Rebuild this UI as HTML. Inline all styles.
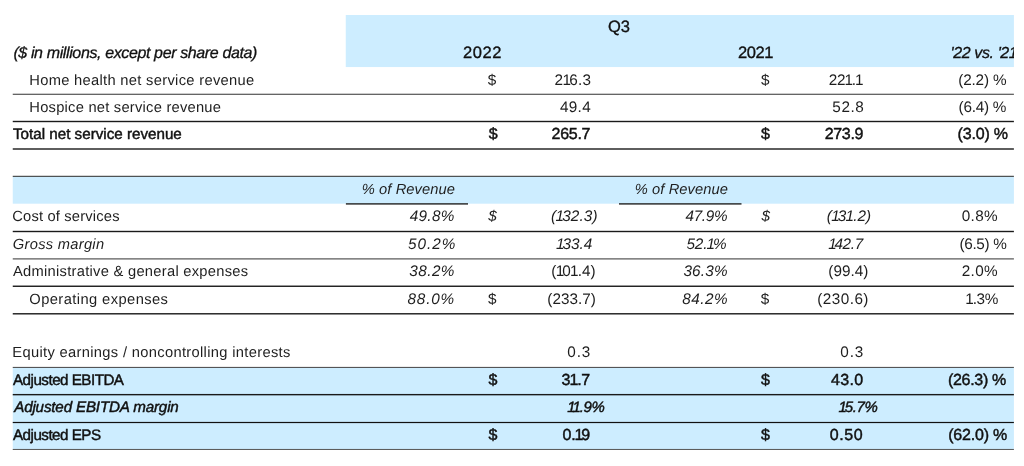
<!DOCTYPE html>
<html lang="en"><head><meta charset="utf-8"><title>Q3 results</title>
<style>
html,body{margin:0;padding:0;background:#fff}
body{width:1024px;height:466px;position:relative;overflow:hidden;font-family:"Liberation Sans",sans-serif;color:#1a1a1a}
.band{position:absolute;background:#ccecfc}
.ln{position:absolute}
.row{position:absolute;left:0;width:1024px;height:20px;will-change:transform;text-rendering:geometricPrecision}
.t{position:absolute;top:0;white-space:nowrap;line-height:20px;height:20px;font-size:15px}
.o{margin:0 -2.0px 0 -0.7px}
.p{margin-right:-0.9px}
.r{font-weight:400;color:#1e1e1e}
.i{font-weight:400;font-style:italic;color:#1e1e1e}
.b{font-weight:400;color:#111;-webkit-text-stroke:0.45px #111}
.bi{font-weight:400;font-style:italic;color:#111;-webkit-text-stroke:0.45px #111}
.hbi{font-weight:400;font-style:italic;color:#111;-webkit-text-stroke:0.3px #111}
.h{font-weight:400;color:#111;-webkit-text-stroke:0.35px #111}
</style></head><body>
<svg width="1024" height="466" viewBox="0 0 1024 466" style="position:absolute;left:0;top:0">
<rect x="345.75" y="15.0" width="668.15" height="52.05" fill="#cdedff"/>
<rect x="12.75" y="176.5" width="1001.15" height="27.19999999999999" fill="#cdedff"/>
<rect x="12.75" y="367.5" width="1001.15" height="82.0" fill="#cdedff"/>
<rect x="12.75" y="93.75" width="1001.15" height="1.0" fill="#333"/>
<rect x="12.75" y="120.80" width="1001.15" height="1.4" fill="#1a1a1a"/>
<rect x="12.75" y="148.30" width="1001.15" height="1.4" fill="#1a1a1a"/>
<rect x="12.75" y="175.80" width="1001.15" height="1.0" fill="#2a2a2a"/>
<rect x="345.9" y="203.20" width="122.10000000000002" height="1.4" fill="#222"/>
<rect x="619" y="203.20" width="122.5" height="1.4" fill="#222"/>
<rect x="12.75" y="230.80" width="1001.15" height="1.4" fill="#1a1a1a"/>
<rect x="12.75" y="258.35" width="1001.15" height="1.1" fill="#444"/>
<rect x="12.75" y="285.55" width="1001.15" height="1.4" fill="#1a1a1a"/>
<rect x="12.75" y="313.10" width="1001.15" height="1.4" fill="#1a1a1a"/>
<rect x="12.75" y="366.90" width="1001.15" height="1.0" fill="#444"/>
<rect x="12.75" y="393.95" width="1001.15" height="1.4" fill="#1a1a1a"/>
<rect x="12.75" y="421.90" width="1001.15" height="1.2" fill="#111"/>
<rect x="12.75" y="448.95" width="1001.15" height="1.0" fill="#555"/>
</svg>
<div class="row" style="top:18px">
<div class="t h" style="left:608.00px;top:-1px;font-size:16.5px">Q3</div>
</div>
<div class="row" style="top:44px">
<div class="t hbi" style="left:13.39px;font-size:16px;letter-spacing:-0.376px">($ in millions, except per share data)</div>
<div class="t h" style="left:462.91px;top:-1px;font-size:16.5px;letter-spacing:0.600px">2022</div>
<div class="t h" style="left:738.00px;top:-1px;font-size:16.5px;letter-spacing:-0.450px">2021</div>
<div class="t hbi" style="left:950.50px;font-size:16px;letter-spacing:-0.380px;width:63.40px;overflow:hidden">'22 vs. '21</div>
</div>
<div class="row" style="top:71px">
<div class="t r" style="left:29.30px;font-size:14.7px;letter-spacing:0.310px">Home health net service revenue</div>
<div class="t r" style="left:487.75px;font-size:15.3px">$</div>
<div class="t r" style="left:554.50px;font-size:15.3px;letter-spacing:0.226px">2<span class="o">1</span>6.3</div>
<div class="t r" style="left:761.00px;font-size:15.3px">$</div>
<div class="t r" style="left:828.70px;font-size:15.3px;letter-spacing:-0.300px">22<span class="o p">1</span>.<span class="o">1</span></div>
<div class="t r" style="left:958.22px;font-size:15.3px;letter-spacing:-0.150px">(2.2) %</div>
</div>
<div class="row" style="top:98px">
<div class="t r" style="left:29.30px;font-size:14.7px;letter-spacing:0.242px">Hospice net service revenue</div>
<div class="t r" style="left:560.00px;font-size:15.3px;letter-spacing:0.300px">49.4</div>
<div class="t r" style="left:832.30px;font-size:15.3px;letter-spacing:0.600px">52.8</div>
<div class="t r" style="left:958.58px;font-size:15.3px;letter-spacing:-0.236px">(6.4) %</div>
</div>
<div class="row" style="top:125px">
<div class="t b" style="left:13.00px;font-size:15.2px;letter-spacing:-0.001px">Total net service revenue</div>
<div class="t b" style="left:488.75px;font-size:16.0px">$</div>
<div class="t b" style="left:551.60px;font-size:16.0px;letter-spacing:-0.300px">265.7</div>
<div class="t b" style="left:761.00px;font-size:16.0px">$</div>
<div class="t b" style="left:824.65px;font-size:16.0px;letter-spacing:-0.300px">273.9</div>
<div class="t b" style="left:957.60px;font-size:16.0px;letter-spacing:-0.188px">(3.0) %</div>
</div>
<div class="row" style="top:180px">
<div class="t i" style="left:361.80px;font-size:14.7px;letter-spacing:0.082px">% of Revenue</div>
<div class="t i" style="left:634.80px;font-size:14.7px;letter-spacing:0.082px">% of Revenue</div>
</div>
<div class="row" style="top:207px">
<div class="t r" style="left:12.30px;font-size:14.7px;letter-spacing:0.180px">Cost of services</div>
<div class="t i" style="left:409.64px;font-size:15.3px;letter-spacing:0.355px">49.8%</div>
<div class="t i" style="left:488.25px;font-size:15.3px">$</div>
<div class="t i" style="left:550.91px;font-size:15.3px;letter-spacing:0.150px">(<span class="o">1</span>32.3)</div>
<div class="t i" style="left:685.45px;font-size:15.3px;letter-spacing:-0.300px">47.9%</div>
<div class="t i" style="left:761.50px;font-size:15.3px">$</div>
<div class="t i" style="left:826.85px;font-size:15.3px">(<span class="o">1</span>3<span class="o p">1</span>.2)</div>
<div class="t r" style="left:961.80px;font-size:15.3px;letter-spacing:0.300px">0.8%</div>
</div>
<div class="row" style="top:235px">
<div class="t i" style="left:12.80px;font-size:14.7px;letter-spacing:0.286px">Gross margin</div>
<div class="t i" style="left:407.93px;font-size:15.3px;letter-spacing:0.995px">50.2%</div>
<div class="t i" style="left:556.58px;font-size:15.3px;letter-spacing:-0.002px"><span class="o">1</span>33.4</div>
<div class="t i" style="left:686.40px;font-size:15.3px;letter-spacing:-0.130px">52.<span class="o">1</span>%</div>
<div class="t i" style="left:828.89px;font-size:15.3px;letter-spacing:-0.300px"><span class="o">1</span>42.7</div>
<div class="t r" style="left:959.40px;font-size:15.3px;letter-spacing:-0.290px">(6.5) %</div>
</div>
<div class="row" style="top:262px">
<div class="t r" style="left:13.00px;font-size:14.7px;letter-spacing:0.281px">Administrative &amp; general expenses</div>
<div class="t i" style="left:409.30px;font-size:15.3px;letter-spacing:0.450px">38.2%</div>
<div class="t r" style="left:551.30px;font-size:15.3px">(<span class="o">1</span>0<span class="o p">1</span>.4)</div>
<div class="t i" style="left:683.39px;font-size:15.3px;letter-spacing:0.225px">36.3%</div>
<div class="t r" style="left:828.33px;font-size:15.3px">(99.4)</div>
<div class="t r" style="left:961.80px;font-size:15.3px;letter-spacing:0.300px">2.0%</div>
</div>
<div class="row" style="top:290px">
<div class="t r" style="left:29.30px;font-size:14.7px;letter-spacing:0.422px">Operating expenses</div>
<div class="t i" style="left:407.55px;font-size:15.3px;letter-spacing:0.805px">88.0%</div>
<div class="t r" style="left:488.00px;font-size:15.3px">$</div>
<div class="t r" style="left:547.30px;font-size:15.3px">(233.7)</div>
<div class="t i" style="left:682.14px;font-size:15.3px;letter-spacing:0.545px">84.2%</div>
<div class="t r" style="left:760.75px;font-size:15.3px">$</div>
<div class="t r" style="left:817.30px;font-size:15.3px;letter-spacing:0.450px">(230.6)</div>
<div class="t r" style="left:965.99px;font-size:15.3px;letter-spacing:-0.300px"><span class="o p">1</span>.3%</div>
</div>
<div class="row" style="top:343px">
<div class="t r" style="left:12.30px;font-size:14.7px;letter-spacing:0.330px">Equity earnings / noncontrolling interests</div>
<div class="t r" style="left:567.30px;font-size:15.3px;letter-spacing:0.900px">0.3</div>
<div class="t r" style="left:840.30px;font-size:15.3px;letter-spacing:0.900px">0.3</div>
</div>
<div class="row" style="top:371px">
<div class="t b" style="left:13.00px;font-size:15.2px;letter-spacing:-0.514px">Adjusted EBITDA</div>
<div class="t b" style="left:488.50px;font-size:16.0px">$</div>
<div class="t b" style="left:561.50px;font-size:16.0px;letter-spacing:-0.300px">3<span class="o p">1</span>.7</div>
<div class="t b" style="left:761.00px;font-size:16.0px">$</div>
<div class="t b" style="left:831.00px;font-size:16.0px;letter-spacing:0.300px">43.0</div>
<div class="t b" style="left:947.93px;font-size:16.0px;letter-spacing:-0.300px">(26.3) %</div>
</div>
<div class="row" style="top:398px">
<div class="t bi" style="left:14.20px;font-size:15.2px;letter-spacing:-0.174px">Adjusted EBITDA margin</div>
<div class="t bi" style="left:567.87px;letter-spacing:-0.300px"><span class="o">1</span><span class="o p">1</span>.9%</div>
<div class="t bi" style="left:839.30px;letter-spacing:-0.300px"><span class="o">1</span>5.7%</div>
</div>
<div class="row" style="top:426px">
<div class="t b" style="left:13.00px;font-size:15.2px;letter-spacing:-0.517px">Adjusted EPS</div>
<div class="t b" style="left:488.50px;font-size:16.0px">$</div>
<div class="t b" style="left:562.55px;font-size:16.0px;letter-spacing:-0.300px">0.<span class="o">1</span>9</div>
<div class="t b" style="left:761.00px;font-size:16.0px">$</div>
<div class="t b" style="left:829.80px;font-size:16.0px;letter-spacing:0.600px">0.50</div>
<div class="t b" style="left:948.16px;font-size:16.0px;letter-spacing:-0.198px">(62.0) %</div>
</div>
</body></html>
